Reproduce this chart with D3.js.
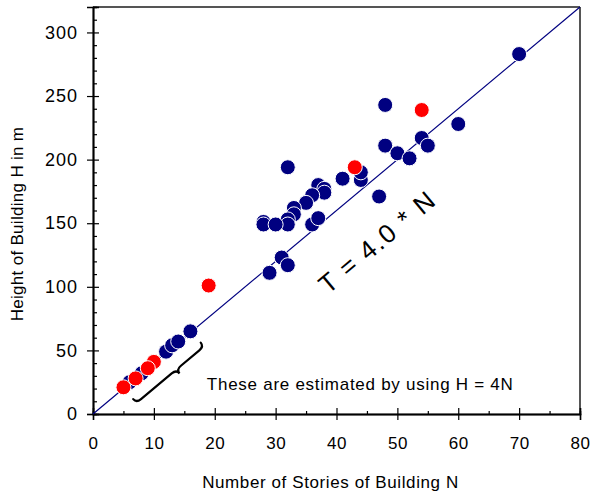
<!DOCTYPE html>
<html>
<head>
<meta charset="utf-8">
<script src="https://cdn.jsdelivr.net/npm/d3@7"></script>
<style>
  body { margin: 0; background: #fff; }
  text { font-family: "Liberation Sans", Arial, sans-serif; fill: #000; }
</style>
</head>
<body>
<svg width="590" height="496"></svg>
<script>
// stories N and height H
var navyN = [70, 48, 60, 54, 55, 48, 50, 52, 47, 41, 44, 44, 32, 37, 38, 38, 36, 35, 33, 33, 32, 32, 28, 28, 30, 36, 37, 31, 32, 29, 6, 8, 12, 13, 14, 16];
var navyH = [283, 243, 228, 217, 211, 211, 205, 201, 171, 185, 184, 190, 194, 180, 177, 174, 172, 166, 162, 157, 153, 149, 151, 149, 149, 149, 154, 123, 117, 111, 25, 32, 49, 54, 57, 65];
var redN = [54, 43, 19, 10, 9, 7, 5];
var redH = [239, 194, 101, 41, 36, 28, 21];

var xMajor = [0, 10, 20, 30, 40, 50, 60, 70, 80];
var yMajor = [0, 50, 100, 150, 200, 250, 300];
var ratio = 4.0;

var svg = d3.select("svg"),
    width = +svg.attr("width"),
    height = +svg.attr("height");

var margin = { top: 7, right: 10, bottom: 82, left: 93 };
var w = width - margin.left - margin.right,
    h = height - margin.top - margin.bottom;

var g = svg.append("g").attr("transform", "translate(" + margin.left + "," + margin.top + ")");

var x = d3.scaleLinear().domain([0, 80]).range([0, w]);
var y = d3.scaleLinear().domain([0, 320]).range([h, 0]);

var xMinor = d3.range(5, 80, 10);
var yMinor = d3.range(10, 320, 10).filter(function(v) { return v % 50 !== 0; });

// frame top / right
g.append("line").attr("x1", 0).attr("x2", w).attr("y1", 0).attr("y2", 0)
  .attr("stroke", "#555").attr("stroke-width", 2);
g.append("line").attr("x1", w).attr("x2", w).attr("y1", 0).attr("y2", h)
  .attr("stroke", "#555").attr("stroke-width", 2);

// y axis
var yAx = g.append("g").call(d3.axisLeft(y).tickValues(yMajor).tickSize(6).tickPadding(9));
yAx.selectAll("text").style("font-size", "18px").style("letter-spacing", "1px");
g.append("g").call(d3.axisRight(y).tickValues(yMajor).tickSize(6).tickFormat(""));
g.append("g").call(d3.axisRight(y).tickValues(yMinor).tickSize(4).tickFormat(""));

// x axis
var xAx = g.append("g").attr("transform", "translate(0," + h + ")")
  .call(d3.axisBottom(x).tickValues(xMajor).tickSize(6).tickPadding(17));
xAx.selectAll("text").style("font-size", "17px").style("letter-spacing", "0.5px");
g.append("g").attr("transform", "translate(0," + h + ")")
  .call(d3.axisTop(x).tickValues(xMajor).tickSize(6).tickFormat(""));
g.append("g").attr("transform", "translate(0," + h + ")")
  .call(d3.axisTop(x).tickValues(xMinor).tickSize(3).tickFormat(""));

g.selectAll(".domain").attr("stroke", "#000").attr("stroke-width", 1.5);
g.selectAll(".tick line").attr("stroke", "#000").attr("stroke-width", 1.2);

// H = 4N line
g.append("path")
  .datum([0, 80])
  .attr("d", d3.line().x(function(d) { return x(d); }).y(function(d) { return y(d * ratio); }))
  .attr("fill", "none").attr("stroke", "#000080").attr("stroke-width", 1.2);

// points
function dots(ns, hs, color) {
  g.append("g").selectAll("circle").data(ns).enter().append("circle")
    .attr("cx", function(d) { return x(d); })
    .attr("cy", function(d, i) { return y(hs[i]); })
    .attr("r", 7.5)
    .attr("fill", color)
    .attr("stroke", "#fff").attr("stroke-width", 1);
}
dots(navyN, navyH, "#000080");
dots(redN, redH, "#ff0000");

var angle = Math.atan2(y(ratio) - y(0), x(1) - x(0)) * 180 / Math.PI;

// T = 4.0 * N label
g.append("text")
  .attr("transform", "translate(" + x(46.6) + "," + y(135) + ") rotate(" + angle + ")")
  .attr("text-anchor", "middle").attr("dy", "0.35em")
  .attr("textLength", 142).attr("lengthAdjust", "spacing")
  .style("font-size", "26px")
  .text("T = 4.0 * N");

// brace
var L = 88, bw = 10, cx0 = 8;
var bp = d3.path();
bp.moveTo(-L / 2, 0);
bp.quadraticCurveTo(-L / 2, bw / 2, -L / 2 + 6, bw / 2);
bp.lineTo(cx0 - 6, bw / 2);
bp.quadraticCurveTo(cx0, bw / 2, cx0, bw);
bp.quadraticCurveTo(cx0, bw / 2, cx0 + 6, bw / 2);
bp.lineTo(L / 2 - 6, bw / 2);
bp.quadraticCurveTo(L / 2, bw / 2, L / 2, 0);
g.append("path")
  .attr("d", bp.toString())
  .attr("transform", "translate(" + x(12.15) + "," + y(33.9) + ") rotate(" + angle + ")")
  .attr("fill", "none").attr("stroke", "#000").attr("stroke-width", 2.2)
  .attr("stroke-linecap", "round");

g.append("text")
  .attr("x", x(18.7)).attr("y", y(18.5))
  .style("font-size", "17px")
  .attr("textLength", 306).attr("lengthAdjust", "spacing")
  .text("These are estimated by using H = 4N");

// axis titles
svg.append("text")
  .attr("x", margin.left + w / 2 - 6).attr("y", 488)
  .attr("text-anchor", "middle")
  .style("font-size", "17px").style("letter-spacing", "0.6px")
  .text("Number of Stories of Building N");

svg.append("text")
  .attr("transform", "translate(23," + 224 + ") rotate(-90)")
  .attr("text-anchor", "middle")
  .style("font-size", "17px").style("letter-spacing", "0.3px")
  .text("Height of Building H in m");
</script>
</body>
</html>
